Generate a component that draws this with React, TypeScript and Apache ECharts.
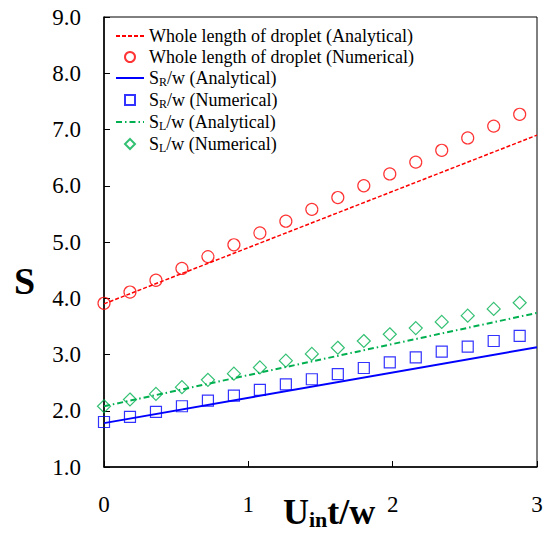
import React, { useEffect, useRef } from "react";
import * as echarts from "echarts";

const xNum = [0, 0.18, 0.36, 0.54, 0.72, 0.9, 1.08, 1.26, 1.44, 1.62, 1.8, 1.98, 2.16, 2.34, 2.52, 2.7, 2.88];
const wholeNum = [3.91, 4.11, 4.32, 4.53, 4.74, 4.95, 5.16, 5.37, 5.58, 5.79, 6.0, 6.21, 6.42, 6.63, 6.85, 7.06, 7.27];
const srNum = [1.8, 1.89, 1.98, 2.08, 2.18, 2.27, 2.37, 2.47, 2.56, 2.65, 2.76, 2.86, 2.95, 3.05, 3.14, 3.24, 3.33];
const slNum = [2.08, 2.2, 2.3, 2.42, 2.55, 2.66, 2.77, 2.89, 3.01, 3.12, 3.24, 3.36, 3.47, 3.58, 3.69, 3.81, 3.92];
const xAna = [0, 3];
const wholeAna = [3.9, 6.9];
const srAna = [1.78, 3.13];
const slAna = [2.08, 3.74];

const names = [
  "Whole length of droplet (Analytical)",
  "Whole length of droplet (Numerical)",
  "SR/w (Analytical)",
  "SR/w (Numerical)",
  "SL/w (Analytical)",
  "SL/w (Numerical)",
];
const legendRich: Record<string, string> = {
  "SR/w (Analytical)": "{n|S}{sub|R}{n|/w (Analytical)}",
  "SR/w (Numerical)": "{n|S}{sub|R}{n|/w (Numerical)}",
  "SL/w (Analytical)": "{n|S}{sub|L}{n|/w (Analytical)}",
  "SL/w (Numerical)": "{n|S}{sub|L}{n|/w (Numerical)}",
};

const FONT = "'Liberation Serif', 'Times New Roman', serif";
const RED = "#ff0000";
const BLUE = "#0000ff";
const GREEN = "#00b050";
const CLEAR = "rgba(0,0,0,0)";
const SQUARE = "path://M0,0H10V10H0Z";
const DIAMOND = "path://M5,0L10,5L5,10L0,5Z";

function pairs(xs: number[], ys: number[]) {
  return xs.map((x, i) => [x, ys[i]]);
}

export default function App() {
  const ref = useRef<HTMLDivElement>(null);
  useEffect(() => {
    if (!ref.current) return;
    const chart = echarts.init(ref.current, null, { renderer: "svg" });
    chart.setOption({
      animation: false,
      backgroundColor: "#fff",
      grid: {
        left: 104,
        right: 12,
        top: 17,
        bottom: 66,
        show: true,
        borderColor: "#000",
        borderWidth: 1,
      },
      xAxis: {
        type: "value",
        min: 0,
        max: 3,
        interval: 1,
        axisLine: { show: true, lineStyle: { color: "#000", width: 1.5 } },
        axisTick: { show: true, inside: true, length: 6, lineStyle: { color: "#000" } },
        axisLabel: { fontFamily: FONT, fontSize: 23, color: "#000", margin: 26 },
        splitLine: { show: false },
      },
      yAxis: {
        type: "value",
        min: 1,
        max: 9,
        interval: 1,
        axisLine: { show: true, lineStyle: { color: "#000", width: 1.5 } },
        axisTick: { show: true, inside: true, length: 6, lineStyle: { color: "#000" } },
        axisLabel: {
          fontFamily: FONT,
          fontSize: 23,
          color: "#000",
          margin: 23,
          formatter: (v: number) => v.toFixed(1),
        },
        splitLine: { show: false },
      },
      legend: {
        orient: "vertical",
        left: 115,
        top: 27,
        padding: 0,
        itemWidth: 28,
        itemHeight: 10,
        itemGap: 3,
        symbolKeepAspect: true,
        data: [
          { name: names[0] },
          { name: names[1], icon: "circle" },
          { name: names[2] },
          { name: names[3], icon: SQUARE },
          { name: names[4] },
          { name: names[5], icon: DIAMOND },
        ],
        formatter: (name: string) => legendRich[name] || "{n|" + name + "}",
        textStyle: {
          fontFamily: FONT,
          fontSize: 18,
          color: "#000",
          rich: {
            n: { fontFamily: FONT, fontSize: 18, color: "#000", lineHeight: 20, verticalAlign: "middle" },
            sub: { fontFamily: FONT, fontSize: 12, color: "#000", lineHeight: 12, verticalAlign: "bottom" },
          },
        },
      },
      graphic: [
        {
          type: "text",
          left: 14,
          top: 262,
          style: {
            text: "S",
            fontFamily: FONT,
            fontWeight: "bold",
            fontSize: 38,
            fill: "#000",
          },
        },
        {
          type: "text",
          left: 283,
          top: 494,
          style: {
            text: "{b|U}{s|in}{b|t/w}",
            fill: "#000",
            rich: {
              b: { fontFamily: FONT, fontWeight: "bold", fontSize: 36, lineHeight: 36, verticalAlign: "middle", fill: "#000" },
              s: { fontFamily: FONT, fontWeight: "bold", fontSize: 22, lineHeight: 22, verticalAlign: "bottom", fill: "#000" },
            },
          },
        },
      ],
      series: [
        {
          name: names[0],
          type: "line",
          data: pairs(xAna, wholeAna),
          symbol: "none",
          lineStyle: { color: RED, width: 1.5, type: [4, 2] },
          itemStyle: { color: CLEAR, borderColor: CLEAR },
        },
        {
          name: names[1],
          type: "scatter",
          data: pairs(xNum, wholeNum),
          symbol: "circle",
          symbolSize: 12,
          itemStyle: { color: CLEAR, borderColor: RED, borderWidth: 1.2 },
        },
        {
          name: names[2],
          type: "line",
          data: pairs(xAna, srAna),
          symbol: "none",
          lineStyle: { color: BLUE, width: 2, type: "solid" },
          itemStyle: { color: CLEAR, borderColor: CLEAR },
        },
        {
          name: names[3],
          type: "scatter",
          data: pairs(xNum, srNum),
          symbol: "rect",
          symbolSize: 11,
          itemStyle: { color: CLEAR, borderColor: BLUE, borderWidth: 1.2 },
        },
        {
          name: names[4],
          type: "line",
          data: pairs(xAna, slAna),
          symbol: "none",
          lineStyle: { color: GREEN, width: 2, type: [6, 3, 1.5, 3] },
          itemStyle: { color: CLEAR, borderColor: CLEAR },
        },
        {
          name: names[5],
          type: "scatter",
          data: pairs(xNum, slNum),
          symbol: "diamond",
          symbolSize: 13,
          itemStyle: { color: CLEAR, borderColor: GREEN, borderWidth: 1.2 },
        },
      ],
    });
    return () => chart.dispose();
  }, []);
  return (
    <div
      ref={ref}
      style={{ position: "absolute", left: 0, top: 0, width: 549, height: 533 }}
    />
  );
}
